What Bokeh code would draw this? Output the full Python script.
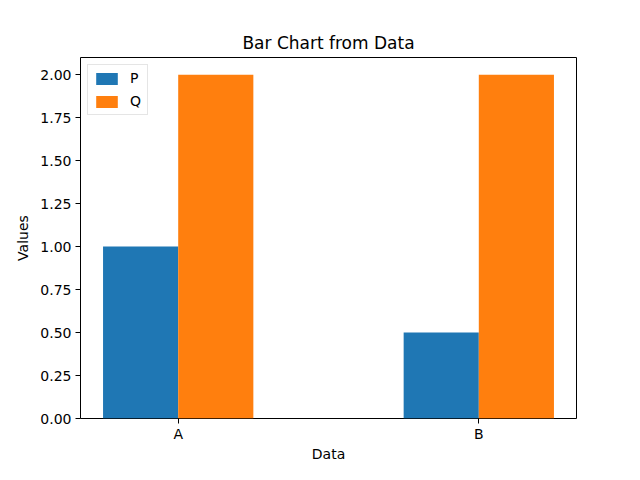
from bokeh.plotting import figure
from bokeh.models import ColumnDataSource, FixedTicker, NumeralTickFormatter, Range1d, Legend, LegendItem
from bokeh.transform import dodge
from bokeh.embed import file_html
from bokeh.resources import INLINE

categories = ["A", "B"]
p_values = [1.0, 0.5]
q_values = [2.0, 2.0]
y_ticks = [0, 0.25, 0.5, 0.75, 1.0, 1.25, 1.5, 1.75, 2.0]

FONT = "DejaVu Sans"
BLUE = "#1f77b4"
ORANGE = "#ff7f0e"

xpos = list(range(len(categories)))
src = ColumnDataSource(dict(x=xpos, P=p_values, Q=q_values))

p = figure(width=624, height=464, output_backend="svg", toolbar_location=None,
           x_range=Range1d(-0.325, 1.325), y_range=Range1d(0, 2.1),
           min_border_left=80, min_border_right=48, min_border_top=57, min_border_bottom=37)

bar_w = 0.25
rp = p.vbar(x=dodge("x", -bar_w / 2), top="P", width=bar_w, source=src,
            fill_color=BLUE, line_color=None)
rq = p.vbar(x=dodge("x", bar_w / 2), top="Q", width=bar_w, source=src,
            fill_color=ORANGE, line_color=None)

p.title.text = "Bar Chart from Data"
p.title.align = "center"
p.title.text_font = FONT
p.title.text_font_size = "17px"
p.title.text_font_style = "normal"
p.title.text_color = "black"

p.xgrid.visible = False
p.ygrid.visible = False
p.outline_line_color = "black"
p.outline_line_width = 1

p.xaxis.ticker = FixedTicker(ticks=xpos)
p.xaxis.major_label_overrides = {i: c for i, c in zip(xpos, categories)}
p.yaxis.ticker = FixedTicker(ticks=y_ticks)
p.yaxis.formatter = NumeralTickFormatter(format="0.00")
p.xaxis.axis_label = "Data"
p.yaxis.axis_label = "Values"
for ax in (p.xaxis[0], p.yaxis[0]):
    ax.axis_line_color = None
    ax.major_tick_out = 5
    ax.major_tick_in = 0
    ax.minor_tick_line_color = None
    ax.major_label_text_font = FONT
    ax.major_label_text_font_size = "14px"
    ax.major_label_text_color = "black"
    ax.axis_label_text_font = FONT
    ax.axis_label_text_font_size = "14px"
    ax.axis_label_text_font_style = "normal"
    ax.axis_label_text_color = "black"
    ax.major_label_standoff = 2
    ax.axis_label_standoff = 1
p.yaxis.major_label_standoff = 4
p.yaxis.axis_label_standoff = 6

legend = Legend(items=[LegendItem(label="P", renderers=[rp]), LegendItem(label="Q", renderers=[rq])],
                location="top_left")
legend.margin = 7
legend.padding = 5
legend.spacing = 7
legend.glyph_width = 27
legend.glyph_height = 15
legend.label_height = 15
legend.label_width = 12
legend.label_standoff = 10
legend.label_text_font = FONT
legend.label_text_font_size = "14px"
legend.label_text_color = "black"
legend.border_line_color = "#cccccc"
legend.border_line_width = 1
legend.background_fill_alpha = 0.8
p.add_layout(legend)

open("out.html", "w").write(file_html(p, INLINE))
